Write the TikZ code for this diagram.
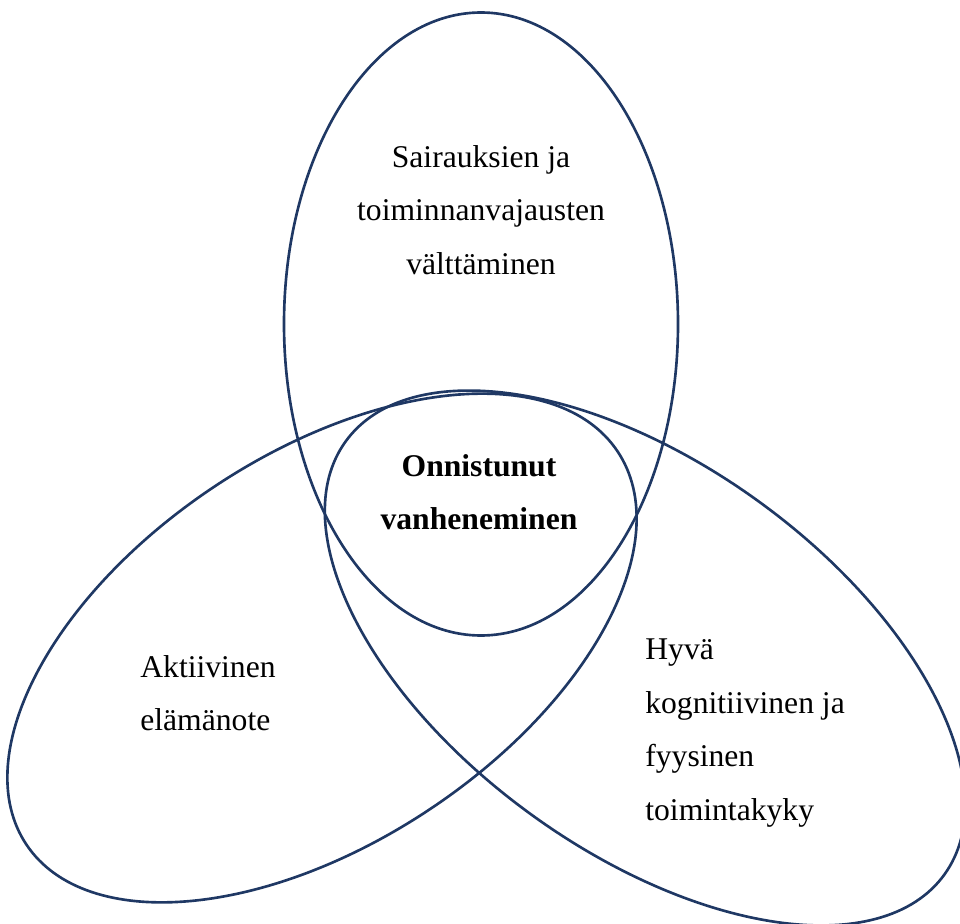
\documentclass[tikz,border=0pt]{standalone}
\usepackage{fontspec}
\setmainfont{Liberation Serif}
\definecolor{kehys}{RGB}{31,56,100}
\tikzset{
	osa/.style={draw=kehys, line width=1.5pt},
	teksti/.style={font=\fontsize{18}{30.5}\selectfont, inner sep=0pt}
}
\begin{document}
\begin{tikzpicture}
	
	\useasboundingbox (0,0) rectangle (19.2,18.46);
	\clip (0,0) rectangle (19.2,18.46);
	
	% ylempi soikio
	\draw[osa] (9.62,11.98) ellipse [x radius=3.94, y radius=6.23];
	% vasen soikio
	\draw[osa, rotate around={33.6:(6.44,5.50)}] (6.44,5.50) ellipse [x radius=7.1, y radius=3.88];
	% oikea soikio
	\draw[osa, rotate around={-35.9:(12.9,5.30)}] (12.9,5.30) ellipse [x radius=7.39, y radius=3.87];
	
	% Tekstit
	\node[teksti, align=center] (sairaudet) at (9.62,14.26) {Sairauksien ja\\toiminnanvajausten\\välttäminen};
	\node[teksti, align=center, font=\fontsize{18}{30.5}\selectfont\bfseries] (onnistunut) at (9.58,8.62) {Onnistunut\\vanheneminen};
	\node[teksti, align=left, anchor=west] (aktiivinen) at (2.8,4.60) {Aktiivinen\\elämänote};
	\node[teksti, align=left, anchor=west] (toimintakyky) at (12.9,3.80) {Hyvä\\kognitiivinen ja\\fyysinen\\toimintakyky};
	
\end{tikzpicture}
\end{document}
